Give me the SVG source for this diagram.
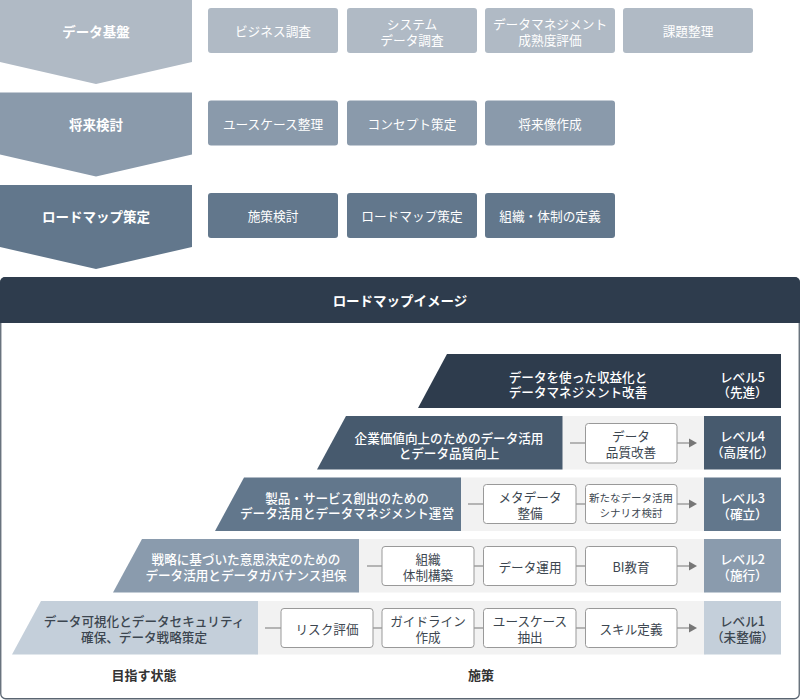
<svg xmlns="http://www.w3.org/2000/svg" width="800" height="700" viewBox="0 0 800 700">
<style>
text{font-family:"Noto Sans CJK JP","Noto Sans",sans-serif;text-anchor:middle;dominant-baseline:central}
.h{font-size:13.5px;font-weight:700;fill:#fff}
.b{font-size:12.7px;fill:#fff}
.lv{font-size:12.6px;fill:#fff;font-weight:500}
.dk{fill:#3c4650}
.act{font-size:12.6px;fill:#3c4650}
.sm{font-size:10.5px;fill:#3c4650}
.ft{font-size:13px;font-weight:700;fill:#333}
.c1{fill:#b0bac5}.c2{fill:#8a9aab}.c3{fill:#62778c}
.ab{fill:#fff;stroke:#999;stroke-width:1}
.band{fill:#f2f2f2}
.ln{stroke:#777;stroke-width:1.2;fill:none}
.ah{fill:#777}
</style>
<defs>
<polygon id="chev" points="0,0 192,0 192,62 96,84 0,62"/>
</defs>
<g id="phase1">
<use href="#chev" class="c1" y="0"/>
<text class="h" x="96" y="31">データ基盤</text>
</g>
<g id="p1-boxes">
<rect class="c1" x="208" y="8" width="130" height="45" rx="3"/>
<text class="b" x="273" y="30.5">ビジネス調査</text>
<rect class="c1" x="347" y="8" width="130" height="45" rx="3"/>
<text class="b" x="412" y="23">システム<tspan x="412" dy="15.5">データ調査</tspan></text>
<rect class="c1" x="485" y="8" width="130" height="45" rx="3"/>
<text class="b" x="550" y="23">データマネジメント<tspan x="550" dy="15.5">成熟度評価</tspan></text>
<rect class="c1" x="623" y="8" width="130" height="45" rx="3"/>
<text class="b" x="688" y="30.5">課題整理</text>
</g>
<g id="phase2">
<use href="#chev" class="c2" y="92.5"/>
<text class="h" x="96" y="123.5">将来検討</text>
</g>
<g id="p2-boxes">
<rect class="c2" x="208" y="100.5" width="130" height="45" rx="3"/>
<text class="b" x="273" y="123">ユースケース整理</text>
<rect class="c2" x="347" y="100.5" width="130" height="45" rx="3"/>
<text class="b" x="412" y="123">コンセプト策定</text>
<rect class="c2" x="485" y="100.5" width="130" height="45" rx="3"/>
<text class="b" x="550" y="123">将来像作成</text>
</g>
<g id="phase3">
<use href="#chev" class="c3" y="185"/>
<text class="h" x="96" y="216">ロードマップ策定</text>
</g>
<g id="p3-boxes">
<rect class="c3" x="208" y="193" width="130" height="45" rx="3"/>
<text class="b" x="273" y="215.5">施策検討</text>
<rect class="c3" x="347" y="193" width="130" height="45" rx="3"/>
<text class="b" x="412" y="215.5">ロードマップ策定</text>
<rect class="c3" x="485" y="193" width="130" height="45" rx="3"/>
<text class="b" x="550" y="215.5">組織・体制の定義</text>
</g>
<g id="panel">
<rect x="0.75" y="277.75" width="798.5" height="421" rx="5" fill="#fff" stroke="#5a6571" stroke-width="1.3"/>
<path d="M0,282 a5,5 0 0 1 5,-5 H795 a5,5 0 0 1 5,5 V323 H0 Z" fill="#2e3c4d"/>
<text class="h" x="400" y="300">ロードマップイメージ</text>
</g>
<g id="level5">
<polygon points="447,354 781,354 781,408 418,408" fill="#2e3c4d"/>
<text class="lv" x="578" y="376">データを使った収益化と<tspan x="578" dy="15">データマネジメント改善</tspan></text>
<text class="lv" x="742.5" y="376">レベル5<tspan x="742.5" dy="15">（先進）</tspan></text>
</g>
<g id="level4">
<rect class="band" x="560" y="416" width="146" height="53.5"/>
<polygon points="346,416 562.5,416 562.5,469.5 317,469.5" fill="#475a6e"/>
<text class="lv" x="449" y="437">企業価値向上のためのデータ活用<tspan x="449" dy="15">とデータ品質向上</tspan></text>
<rect x="704" y="416" width="77" height="53.5" fill="#475a6e"/>
<text class="lv" x="742.5" y="435.5">レベル4<tspan x="742.5" dy="15.5">（高度化）</tspan></text>
</g>
<g id="level3">
<rect class="band" x="458" y="477.5" width="248" height="53.5"/>
<polygon points="244,477.5 461,477.5 461,531 215,531" fill="#62778c"/>
<text class="lv" x="347" y="497">製品・サービス創出のための<tspan x="347" dy="15">データ活用とデータマネジメント運営</tspan></text>
<rect x="704" y="477.5" width="77" height="53.5" fill="#62778c"/>
<text class="lv" x="742.5" y="497">レベル3<tspan x="742.5" dy="15.5">（確立）</tspan></text>
</g>
<g id="level2">
<rect class="band" x="356" y="539" width="350" height="53.5"/>
<polygon points="142,539 359,539 359,592.5 113,592.5" fill="#8a9bad"/>
<text class="lv" x="246" y="558.5">戦略に基づいた意思決定のための<tspan x="246" dy="15.5">データ活用とデータガバナンス担保</tspan></text>
<rect x="704" y="539" width="77" height="53.5" fill="#8a9bad"/>
<text class="lv" x="742.5" y="558.5">レベル2<tspan x="742.5" dy="15.5">（施行）</tspan></text>
</g>
<g id="level1">
<rect class="band" x="255" y="601" width="451" height="53.5"/>
<polygon points="41,601 258,601 258,654.5 12,654.5" fill="#c4cfda"/>
<text class="lv dk" x="144" y="620.5">データ可視化とデータセキュリティ<tspan x="144" dy="15.5">確保、データ戦略策定</tspan></text>
<rect x="704" y="601" width="77" height="53.5" fill="#c4cfda"/>
<text class="lv dk" x="742.5" y="620.5">レベル1<tspan x="742.5" dy="15.5">（未整備）</tspan></text>
</g>
<g id="connectors">
<path class="ln" d="M570,443 H585.5 M677,443 H691"/>
<polygon class="ah" points="689,438.5 697,443 689,447.5"/>
<path class="ln" d="M468,504 H483.5 M576,504 H585.5 M677,504 H691"/>
<polygon class="ah" points="689,499.5 697,504 689,508.5"/>
<path class="ln" d="M367,566 H382 M474,566 H483.5 M576,566 H585.5 M677,566 H691"/>
<polygon class="ah" points="689,561.5 697,566 689,570.5"/>
<path class="ln" d="M265,628 H281 M373,628 H382 M474,628 H483.5 M576,628 H585.5 M677,628 H691"/>
<polygon class="ah" points="689,623.5 697,628 689,632.5"/>
</g>
<g id="a-l4">
<rect class="ab" x="585.5" y="423.5" width="91.5" height="39.5" rx="3"/>
<text class="act" x="631" y="435.5">データ<tspan x="631" dy="15.5">品質改善</tspan></text>
</g>
<g id="a-l3-1">
<rect class="ab" x="483.5" y="484.5" width="92.5" height="39" rx="3"/>
<text class="act" x="530" y="496.5">メタデータ<tspan x="530" dy="15.5">整備</tspan></text>
</g>
<g id="a-l3-2">
<rect class="ab" x="585.5" y="484.5" width="91.5" height="39" rx="3"/>
<text class="sm" x="631" y="497">新たなデータ活用<tspan x="631" dy="15">シナリオ検討</tspan></text>
</g>
<g id="a-l2-1">
<rect class="ab" x="382" y="546.5" width="92" height="39" rx="3"/>
<text class="act" x="428" y="558.5">組織<tspan x="428" dy="15.5">体制構築</tspan></text>
</g>
<g id="a-l2-2">
<rect class="ab" x="483.5" y="546.5" width="92.5" height="39" rx="3"/>
<text class="act" x="530" y="566">データ運用</text>
</g>
<g id="a-l2-3">
<rect class="ab" x="585.5" y="546.5" width="91.5" height="39" rx="3"/>
<text class="act" x="631" y="566">BI教育</text>
</g>
<g id="a-l1-1">
<rect class="ab" x="281" y="608.5" width="92" height="39" rx="3"/>
<text class="act" x="327" y="628">リスク評価</text>
</g>
<g id="a-l1-2">
<rect class="ab" x="382" y="608.5" width="92" height="39" rx="3"/>
<text class="act" x="428" y="620.5">ガイドライン<tspan x="428" dy="15.5">作成</tspan></text>
</g>
<g id="a-l1-3">
<rect class="ab" x="483.5" y="608.5" width="92.5" height="39" rx="3"/>
<text class="act" x="530" y="620.5">ユースケース<tspan x="530" dy="15.5">抽出</tspan></text>
</g>
<g id="a-l1-4">
<rect class="ab" x="585.5" y="608.5" width="91.5" height="39" rx="3"/>
<text class="act" x="631" y="628">スキル定義</text>
</g>
<g id="footer">
<text class="ft" x="144" y="674">目指す状態</text>
<text class="ft" x="481" y="674">施策</text>
</g>
</svg>
